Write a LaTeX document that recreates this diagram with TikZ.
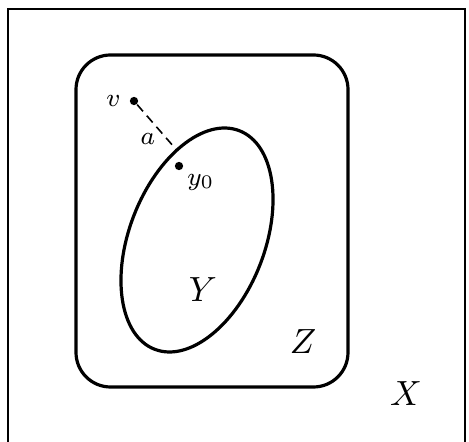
\documentclass[tikz,border=0pt]{standalone}
\usetikzlibrary{positioning}
\begin{document}
\begin{tikzpicture}[x=0.11cm, y=0.11cm,
        dot/.style={circle, fill, inner sep=0pt, minimum size=2.6pt},
        small/.style={font=\footnotesize, inner sep=1pt},
        big/.style={font=\fontsize{11}{13}\selectfont}]
    \useasboundingbox (0,0) rectangle (46.9,44.2);
    % the space X (open at the bottom)
    \draw[line width=0.6pt] (0.8,0) -- (0.8,43.3) -- (46.5,43.3) -- (46.5,0);
    % Z
    \draw[line width=1pt, rounded corners=3.8mm] (7.6,5.5) rectangle (34.8,38.7);
    % Y
    \begin{scope}[shift={(19.7,20.2)}, rotate=68.8]
        \draw[line width=1pt] (0,0) ellipse [x radius=11.72, y radius=6.77];
        \coordinate (foot) at (49.3:11.72 and 6.77);
    \end{scope}
    \node[dot] (v) at (13.4,34.1) {};
    \node[dot] (y0) at (17.9,27.6) {};
    \node[small, left=1.5pt of v] (vlabel) {$v$};
    \node[small, below right=0.5pt of y0] (y0label) {$y_0$};
    \draw[line width=0.5pt, dash pattern=on 2.8pt off 1.8pt] (v) -- node[small, pos=0.55, below left] (alabel) {$a$} (foot);
    \node[big] (Ylabel) at (20.3,15.2) {$Y$};
    \node[big] (Zlabel) at (30.3,10.0) {$Z$};
    \node[big] (Xlabel) at (40.6,4.8) {$X$};
\end{tikzpicture}
\end{document}
